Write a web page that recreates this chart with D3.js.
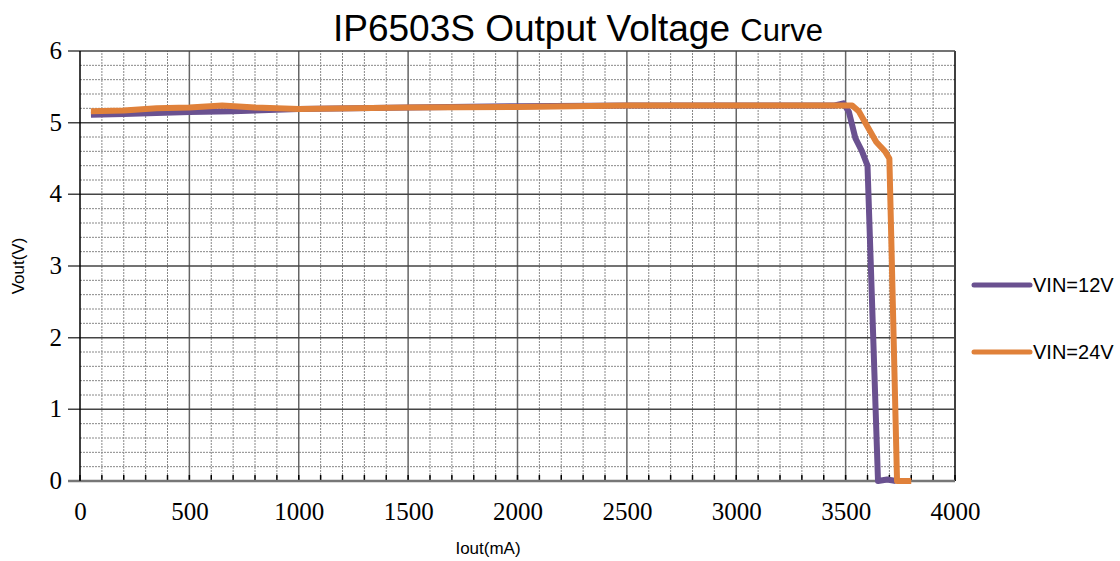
<!DOCTYPE html>
<html>
<head>
<meta charset="utf-8">
<script src="https://cdn.jsdelivr.net/npm/d3@7"></script>
<style>
  body { margin: 0; background: #fff; }
</style>
</head>
<body>
<div id="chart"></div>
<script>
// series data
var seriesNames = ["VIN=12V", "VIN=24V"];
var seriesColors = ["#6a5190", "#e0813a"];

var iout12 = [50, 200, 500, 700, 1000, 1500, 2000, 2500, 3000, 3450, 3490, 3515, 3545, 3575, 3600, 3648, 3690, 3730];
var vout12 = [5.11, 5.12, 5.15, 5.16, 5.19, 5.21, 5.23, 5.24, 5.24, 5.24, 5.27, 5.15, 4.78, 4.6, 4.4, 0, 0.02, 0];

var iout24 = [50, 200, 350, 500, 650, 800, 1000, 1500, 2000, 2500, 3000, 3500, 3530, 3560, 3640, 3680, 3700, 3735, 3800];
var vout24 = [5.16, 5.17, 5.2, 5.21, 5.24, 5.21, 5.19, 5.21, 5.22, 5.24, 5.24, 5.24, 5.24, 5.16, 4.73, 4.6, 4.5, 0, 0];

var xTicks = [0, 500, 1000, 1500, 2000, 2500, 3000, 3500, 4000];
var yTicks = [0, 1, 2, 3, 4, 5, 6];

var width = 1120,
    height = 561;

var margin = { top: 51, left: 80, bottom: 80, right: 165 };

var serif = "'Liberation Serif', 'DejaVu Serif', serif",
    sans = "'Liberation Sans', Arial, sans-serif";

var svg = d3.select("#chart")
    .append("svg")
    .attr("width", width)
    .attr("height", height);

var x = d3.scaleLinear().domain([0, 4000]).range([margin.left, width - margin.right]);
var y = d3.scaleLinear().domain([0, 6]).range([height - margin.bottom, margin.top]);

var grid = svg.append("g");

// minor grid
grid.selectAll("line.vminor")
    .data(d3.range(100, 4000, 100).filter(function (d) { return d % 500 !== 0; }))
    .enter().append("line")
    .attr("x1", function (d) { return x(d); })
    .attr("x2", function (d) { return x(d); })
    .attr("y1", y(0)).attr("y2", y(6))
    .attr("stroke", "#888").attr("stroke-width", 1).attr("stroke-dasharray", "2,1");

grid.selectAll("line.hminor")
    .data(d3.range(1, 30).filter(function (d) { return d % 5 !== 0; }))
    .enter().append("line")
    .attr("y1", function (d) { return y(d * 0.2); })
    .attr("y2", function (d) { return y(d * 0.2); })
    .attr("x1", x(0)).attr("x2", x(4000))
    .attr("stroke", "#888").attr("stroke-width", 1).attr("stroke-dasharray", "2,1");

// major grid
grid.selectAll("line.vmajor")
    .data(xTicks.slice(1))
    .enter().append("line")
    .attr("x1", function (d) { return x(d); })
    .attr("x2", function (d) { return x(d); })
    .attr("y1", y(0)).attr("y2", y(6))
    .attr("stroke", function (d) { return d === 4000 ? "#000" : "#666"; })
    .attr("stroke-width", 1.5);

grid.selectAll("line.hmajor")
    .data(yTicks.slice(1))
    .enter().append("line")
    .attr("y1", function (d) { return y(d); })
    .attr("y2", function (d) { return y(d); })
    .attr("x1", x(0) - 12).attr("x2", x(4000))
    .attr("stroke", "#444").attr("stroke-width", 1.5);

// small ticks on bottom axis
grid.selectAll("line.xt")
    .data(d3.range(0, 4001, 100))
    .enter().append("line")
    .attr("x1", function (d) { return x(d); })
    .attr("x2", function (d) { return x(d); })
    .attr("y1", y(0)).attr("y2", y(0) - 6)
    .attr("stroke", "#000").attr("stroke-width", 1.5);

// axes
var xAxis = svg.append("g")
    .attr("transform", "translate(0," + y(0) + ")")
    .call(d3.axisBottom(x).tickValues(xTicks).tickFormat(d3.format("d")).tickSize(0).tickPadding(21));
xAxis.select(".domain").remove();
xAxis.selectAll("text")
    .style("font-family", serif).style("font-size", "25px").attr("fill", "#000");

var yAxis = svg.append("g")
    .attr("transform", "translate(" + x(0) + ",0)")
    .call(d3.axisLeft(y).tickValues(yTicks).tickFormat(d3.format("d")).tickSize(0).tickPadding(18));
yAxis.select(".domain").remove();
yAxis.selectAll("text")
    .style("font-family", serif).style("font-size", "25px").attr("fill", "#000").attr("dy", "0.3em");

svg.append("line")
    .attr("x1", x(0) - 12).attr("x2", x(4000))
    .attr("y1", y(0)).attr("y2", y(0))
    .attr("stroke", "#777").attr("stroke-width", 2.5);

svg.append("line")
    .attr("x1", x(0)).attr("x2", x(0))
    .attr("y1", y(0)).attr("y2", y(6))
    .attr("stroke", "#000").attr("stroke-width", 1.5);

// lines
var line = d3.line()
    .x(function (d) { return x(d[0]); })
    .y(function (d) { return y(d[1]); });

var data12 = d3.zip(iout12, vout12),
    data24 = d3.zip(iout24, vout24);

[data12, data24].forEach(function (data, i) {
    svg.append("path")
        .datum(data)
        .attr("d", line)
        .attr("fill", "none")
        .attr("stroke", seriesColors[i])
        .attr("stroke-width", 6)
        .attr("stroke-linejoin", "round");
});

// legend
var legend = svg.selectAll("g.legend")
    .data(seriesNames)
    .enter().append("g")
    .attr("transform", function (d, i) { return "translate(974," + (285 + i * 67) + ")"; });

legend.append("line")
    .attr("x1", 0).attr("x2", 56)
    .attr("stroke", function (d, i) { return seriesColors[i]; })
    .attr("stroke-width", 5)
    .attr("stroke-linecap", "round");

legend.append("text")
    .attr("x", 59).attr("dy", "0.36em")
    .attr("font-family", sans)
    .attr("font-size", 20)
    .text(function (d) { return d; });

// title and axis labels
var title = svg.append("text")
    .attr("x", 578).attr("y", 41)
    .attr("text-anchor", "middle")
    .attr("font-family", sans);
title.append("tspan").attr("font-size", 37).text("IP6503S Output Voltage ");
title.append("tspan").attr("font-size", 31).text("Curve");

svg.append("text")
    .attr("x", 488).attr("y", 554)
    .attr("text-anchor", "middle")
    .attr("font-family", sans)
    .attr("font-size", 17)
    .text("Iout(mA)");

svg.append("text")
    .attr("transform", "translate(24," + y(3) + ") rotate(-90)")
    .attr("text-anchor", "middle")
    .attr("font-family", sans)
    .attr("font-size", 17)
    .text("Vout(V)");
</script>
</body>
</html>
